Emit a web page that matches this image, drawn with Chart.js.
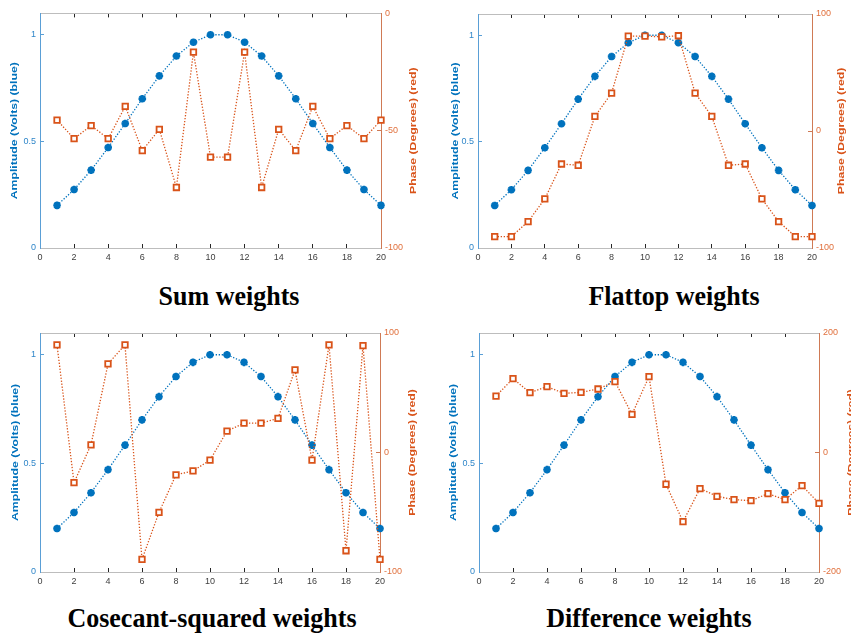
<!DOCTYPE html>
<html lang="en">
<head>
<meta charset="utf-8">
<title>Array weights</title>
<script src="https://cdn.jsdelivr.net/npm/chart.js@4.4.1/dist/chart.umd.min.js"></script>
<style>
    html, body { margin: 0; padding: 0; background: #fff; width: 851px; height: 635px; overflow: hidden; }
    canvas { position: absolute; }
    .titulo {
        position: absolute; width: 400px; text-align: center; line-height: 1;
        font-family: "Liberation Serif", "Times New Roman", serif; font-weight: bold; font-size: 26px;
        color: #000; white-space: nowrap; transform: scaleY(1.08);
    }
</style>
</head>
<body>
<canvas id="suma" width="425" height="268" style="left:0px;top:0px"></canvas>
<canvas id="flattop" width="426" height="268" style="left:425px;top:0px"></canvas>
<canvas id="cosecante" width="425" height="272" style="left:0px;top:318px"></canvas>
<canvas id="diferencia" width="440" height="272" style="left:425px;top:318px"></canvas>

<div class="titulo" style="left:29px;top:283px">Sum weights</div>
<div class="titulo" style="left:474px;top:283px">Flattop weights</div>
<div class="titulo" style="left:12px;top:605px">Cosecant-squared weights</div>
<div class="titulo" style="left:449px;top:605px">Difference weights</div>

<script>
'use strict';

const AZUL = '#0072BD';
const NARANJA = '#D95319';
const FUENTE = '"Liberation Sans", Arial, sans-serif';

// Eje X: índice del elemento
const elementos = [1, 2, 3, 4, 5, 6, 7, 8, 9, 10, 11, 12, 13, 14, 15, 16, 17, 18, 19, 20];
const ticksEjeX = [0, 2, 4, 6, 8, 10, 12, 14, 16, 18, 20];
const ticksAmplitud = [0, 0.5, 1];

// Amplitud (igual en los cuatro casos)
const amplitud = [0.2, 0.274, 0.365, 0.471, 0.584, 0.7, 0.807, 0.9, 0.965, 1.0,
                  1.0, 0.965, 0.9, 0.807, 0.7, 0.584, 0.471, 0.365, 0.274, 0.2];

// Fase en grados
const faseSuma = [-45.5, -53.4, -47.8, -53.4, -39.6, -58.5, -49.4, -74.2, -16.5, -61.3,
                  -61.3, -16.5, -74.2, -49.4, -58.5, -39.6, -53.4, -47.8, -53.4, -45.5];
const faseFlattop = [-90.2, -90.2, -77.4, -58.0, -28.2, -29.3, 12.5, 32.4, 81.1, 81.1,
                     80.5, 81.4, 32.4, 12.5, -29.3, -28.2, -58.0, -77.4, -90.2, -90.2];
const faseCosecante = [90.1, -25.2, 6.4, 74.1, 90.1, -89.5, -50.1, -18.7, -15.4, -6.4,
                       17.9, 24.6, 24.6, 28.5, 69.1, -6.4, 90.1, -82.2, 89.5, -89.5];
const faseDiferencia = [94.5, 123.6, 100.1, 110.2, 99, 100.7, 106.3, 118.6, 63.8, 127,
                        -53.1, -115.8, -60.4, -73.3, -78.9, -80.6, -68.8, -78.9, -55.4, -85];

const ticksFaseSuma = [-100, -50, 0];
const ticksFase100 = [-100, 0, 100];
const ticksFase200 = [-200, 0, 200];

/**
 * Dibuja los títulos de los ejes Y girados (de abajo hacia arriba, como MATLAB).
 */
const titulosEjes = {
    id: 'titulosEjes',
    afterDraw(chart, args, opts) {
        const { ctx, chartArea } = chart;
        const yc = (chartArea.top + chartArea.bottom) / 2;
        const textos = [
            { texto: 'Amplitude (Volts) (blue)', x: chartArea.left - opts.izq, color: AZUL },
            { texto: 'Phase (Degrees) (red)', x: chartArea.right + opts.der, color: NARANJA }
        ];
        textos.forEach(t => {
            ctx.save();
            ctx.font = 'bold 9px ' + FUENTE;
            ctx.textAlign = 'center';
            ctx.textBaseline = 'middle';
            ctx.fillStyle = t.color;
            ctx.translate(t.x, yc);
            ctx.rotate(-Math.PI / 2);
            ctx.scale(1.36, 1);
            ctx.fillText(t.texto, 0, 0);
            ctx.restore();
        });
    }
};

/**
 * Crea un panel con amplitud (eje izquierdo) y fase (eje derecho).
 */
function crearPanel(id, fase, faseMin, faseMax, ticksFase, caja) {
    const ctx = document.getElementById(id).getContext('2d');

    const ejeY = (posicion, min, max, ticks, color, borde, ancho, relleno) => ({
        type: 'linear',
        position: posicion,
        min: min,
        max: max,
        afterBuildTicks: scale => { scale.ticks = ticks.map(v => ({ value: v })); },
        afterFit: scale => { scale.width = ancho; },
        ticks: { color: color, padding: relleno, font: { size: 9 }, callback: v => String(v) },
        grid: { drawOnChartArea: false, tickLength: -4, tickColor: borde },
        border: { color: borde, width: 1 }
    });

    return new Chart(ctx, {
        type: 'line',
        data: {
            datasets: [
                {
                    label: 'Phase',
                    data: elementos.map((x, i) => ({ x: x, y: fase[i] })),
                    yAxisID: 'yDer',
                    borderColor: NARANJA,
                    borderWidth: 1.3,
                    borderDash: [1.3, 1.7],
                    pointStyle: 'rect',
                    pointRadius: 3.9,
                    pointBorderWidth: 1.8,
                    pointBackgroundColor: '#fff',
                    pointBorderColor: NARANJA,
                    clip: false
                },
                {
                    label: 'Amplitude',
                    data: elementos.map((x, i) => ({ x: x, y: amplitud[i] })),
                    yAxisID: 'yIzq',
                    borderColor: AZUL,
                    borderWidth: 1.3,
                    borderDash: [1.3, 1.7],
                    pointStyle: 'star',
                    pointRadius: 3.8,
                    pointBorderWidth: 2.4,
                    pointBackgroundColor: AZUL,
                    pointBorderColor: AZUL,
                    clip: false
                }
            ]
        },
        options: {
            responsive: false,
            animation: false,
            devicePixelRatio: 1,
            layout: { autoPadding: false, padding: { top: caja.arriba, left: 0, right: 0, bottom: 0 } },
            plugins: {
                legend: { display: false },
                tooltip: { enabled: false },
                titulosEjes: { izq: caja.tituloIzq, der: caja.tituloDer }
            },
            scales: {
                x: {
                    type: 'linear',
                    position: 'bottom',
                    min: 0,
                    max: 20,
                    afterBuildTicks: scale => { scale.ticks = ticksEjeX.map(v => ({ value: v })); },
                    afterFit: scale => { scale.height = caja.abajo; },
                    ticks: { color: '#404040', padding: 8, font: { size: 9 }, maxRotation: 0 },
                    grid: { drawOnChartArea: false, tickLength: -4, tickColor: '#262626' },
                    border: { color: '#bdbdbd', width: 1 }
                },
                xArriba: {
                    type: 'linear',
                    position: 'top',
                    min: 0,
                    max: 20,
                    afterBuildTicks: scale => { scale.ticks = ticksEjeX.map(v => ({ value: v })); },
                    afterFit: scale => { scale.height = 0; },
                    ticks: { display: false },
                    grid: { drawOnChartArea: false, tickLength: -4, tickColor: '#262626' },
                    border: { color: '#bdbdbd', width: 1 }
                },
                yIzq: ejeY('left', 0, 1.1, ticksAmplitud, '#2f86c9', '#5a9fd6', caja.izq, 8),
                yDer: ejeY('right', faseMin, faseMax, ticksFase, '#e0703d', '#cf7a55', caja.der, 8)
            }
        },
        plugins: [titulosEjes]
    });
}

crearPanel('suma', faseSuma, -100, 0, ticksFaseSuma,
    { izq: 40, der: 44, arriba: 10, abajo: 20, tituloIzq: 25, tituloDer: 33 });
crearPanel('flattop', faseFlattop, -100, 100, ticksFase100,
    { izq: 53, der: 39, arriba: 14, abajo: 20, tituloIzq: 22, tituloDer: 30 });
crearPanel('cosecante', faseCosecante, -100, 100, ticksFase100,
    { izq: 40, der: 45, arriba: 15, abajo: 18, tituloIzq: 24, tituloDer: 33 });
crearPanel('diferencia', faseDiferencia, -200, 200, ticksFase200,
    { izq: 54, der: 46, arriba: 15, abajo: 18, tituloIzq: 25, tituloDer: 33 });
</script>
</body>
</html>
